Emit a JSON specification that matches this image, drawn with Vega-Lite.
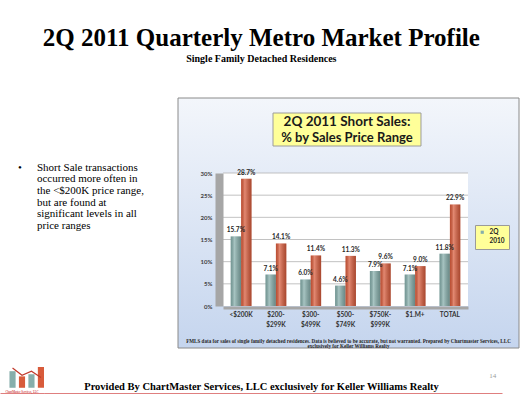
{
  "$schema": "https://vega.github.io/schema/vega-lite/v6.json",
  "padding": 0,
  "background": "white",
  "config": {"view": {"stroke": null}},
  "datasets": {
    "sales": [
      {"range": "<$200K", "series": "2Q 2010", "pct": 0.157},
      {"range": "<$200K", "series": "2Q 2011", "pct": 0.287},
      {"range": "$200-$299K", "series": "2Q 2010", "pct": 0.071},
      {"range": "$200-$299K", "series": "2Q 2011", "pct": 0.141},
      {"range": "$300-$499K", "series": "2Q 2010", "pct": 0.060},
      {"range": "$300-$499K", "series": "2Q 2011", "pct": 0.114},
      {"range": "$500-$749K", "series": "2Q 2010", "pct": 0.046},
      {"range": "$500-$749K", "series": "2Q 2011", "pct": 0.113},
      {"range": "$750K-$999K", "series": "2Q 2010", "pct": 0.079},
      {"range": "$750K-$999K", "series": "2Q 2011", "pct": 0.096},
      {"range": "$1.M+", "series": "2Q 2010", "pct": 0.071},
      {"range": "$1.M+", "series": "2Q 2011", "pct": 0.090},
      {"range": "TOTAL", "series": "2Q 2010", "pct": 0.118},
      {"range": "TOTAL", "series": "2Q 2011", "pct": 0.229}
    ],
    "grid": [{"tick": 0.05}, {"tick": 0.10}, {"tick": 0.15}, {"tick": 0.20}, {"tick": 0.25}, {"tick": 0.30}],
    "logo": [{"k": "a", "h": 0.8, "t": 0.95}, {"k": "b", "h": 0.55, "t": 0.6}, {"k": "c", "h": 0.65, "t": 0.8}, {"k": "d", "h": 1.0, "t": 0.5}],
    "one": [{}]
  },
  "spacing": 15,
  "vconcat": [
    {
      "width": 529, "height": 82,
      "data": {"name": "one"},
      "layer": [
        {
          "mark": {"type": "text", "text": "2Q 2011 Quarterly Metro Market Profile", "font": "Liberation Serif", "fontSize": 25, "fontWeight": "bold", "align": "center", "baseline": "alphabetic", "color": "black"},
          "encoding": {
            "x": {"datum": 0.494, "type": "quantitative", "scale": {"domain": [0, 1]}, "axis": null},
            "y": {"datum": 0.44, "type": "quantitative", "scale": {"domain": [0, 1]}, "axis": null}
          }
        },
        {
          "mark": {"type": "text", "text": "Single Family Detached Residences", "font": "Liberation Serif", "fontSize": 10, "fontWeight": "bold", "align": "center", "baseline": "alphabetic", "color": "black"},
          "encoding": {
            "x": {"datum": 0.494, "type": "quantitative"},
            "y": {"datum": 0.245, "type": "quantitative"}
          }
        }
      ]
    },
    {
      "spacing": 5,
      "hconcat": [
        {
          "width": 172, "height": 250,
          "data": {"name": "one"},
          "layer": [
            {
              "mark": {"type": "text", "text": "•", "font": "Liberation Serif", "fontSize": 11, "align": "center", "baseline": "top", "color": "black"},
              "encoding": {
                "x": {"datum": 0.116, "type": "quantitative", "scale": {"domain": [0, 1]}, "axis": null},
                "y": {"datum": 0.745, "type": "quantitative", "scale": {"domain": [0, 1]}, "axis": null}
              }
            },
            {
              "mark": {"type": "text", "text": ["Short Sale transactions", "occurred more often in", "the <$200K price range,", "but are found at", "significant levels in all", "price ranges"], "font": "Liberation Serif", "fontSize": 11, "lineHeight": 11.6, "align": "left", "baseline": "top", "color": "black"},
              "encoding": {
                "x": {"datum": 0.215, "type": "quantitative"},
                "y": {"datum": 0.745, "type": "quantitative"}
              }
            }
          ]
        },
        {
          "width": 341, "height": 250,
          "resolve": {"scale": {"x": "independent", "y": "independent"}},
          "layer": [
            {
              "data": {"name": "one"},
              "mark": {"type": "rect", "stroke": "#8a8a8a", "strokeWidth": 1, "fill": {"gradient": "linear", "x1": 0, "y1": 0, "x2": 0, "y2": 1, "stops": [{"offset": 0, "color": "#f3f6fb"}, {"offset": 1, "color": "#c5d5ee"}]}},
              "encoding": {
                "x": {"datum": 0, "type": "quantitative", "scale": {"domain": [0, 1]}, "axis": null},
                "x2": {"datum": 1},
                "y": {"datum": 0, "type": "quantitative", "scale": {"domain": [0, 1]}, "axis": null},
                "y2": {"datum": 1}
              }
            },
            {
              "data": {"name": "one"},
              "mark": {"type": "rect", "fill": "white"},
              "encoding": {
                "x": {"datum": 0, "type": "quantitative", "scale": {"domain": [0, 1], "range": [45, 290]}, "axis": null},
                "x2": {"datum": 1},
                "y": {"datum": 0, "type": "quantitative", "scale": {"domain": [0, 0.3], "range": [208, 75], "nice": false}, "axis": null},
                "y2": {"datum": 0.3}
              }
            },
            {
              "data": {"name": "grid"},
              "mark": {"type": "rule", "stroke": "#b3b3b3", "strokeWidth": 0.8},
              "encoding": {
                "x": {"datum": 0, "type": "quantitative", "scale": {"domain": [0, 1], "range": [45, 290]}, "axis": null},
                "x2": {"datum": 1},
                "y": {"field": "tick", "type": "quantitative", "scale": {"domain": [0, 0.3], "range": [208, 75], "nice": false}, "axis": null}
              }
            },
            {
              "data": {"name": "sales"},
              "encoding": {
                "x": {
                  "field": "range", "type": "nominal", "sort": null,
                  "scale": {"range": [45, 290], "paddingInner": 0.4, "paddingOuter": 0.22},
                  "axis": {
                    "orient": "bottom", "offset": -40.5, "zindex": 1, "title": null, "ticks": false, "grid": false,
                    "domainColor": "#a6a6a6", "domainWidth": 3, "labelAngle": 0,
                    "labelFont": "Lato", "labelFontWeight": "bold", "labelFontSize": 6.5, "labelColor": "#333333",
                    "labelPadding": 4, "labelLineHeight": 9.5, "labelBaseline": "top",
                    "labelExpr": "indexof(datum.label, '-') > 0 ? [slice(datum.label, 0, indexof(datum.label, '-') + 1), slice(datum.label, indexof(datum.label, '-') + 1)] : datum.label"
                  }
                },
                "xOffset": {"field": "series", "type": "nominal", "scale": {"paddingInner": 0}},
                "y": {
                  "field": "pct", "type": "quantitative",
                  "scale": {"domain": [0, 0.3], "range": [208, 75], "nice": false},
                  "axis": {
                    "orient": "left", "offset": -41, "zindex": 1, "title": null, "ticks": false, "grid": false,
                    "values": [0, 0.05, 0.1, 0.15, 0.2, 0.25, 0.3], "format": ".0%",
                    "domainColor": "#a6a6a6", "domainWidth": 8,
                    "labelFont": "Lato", "labelFontWeight": "bold", "labelFontSize": 6, "labelColor": "#404040", "labelPadding": 7
                  }
                }
              },
              "layer": [
                {
                  "mark": {"type": "bar"},
                  "encoding": {
                    "color": {
                      "field": "series", "type": "nominal",
                      "scale": {"domain": ["2Q 2010", "2Q 2011"], "range": ["#86aeab", "#d85b3b"]},
                      "legend": {
                        "orient": "none", "legendX": 475, "legendY": 225, "values": ["2Q 2010"], "title": null,
                        "fillColor": "#ffff99", "strokeColor": "#9a9a9a", "padding": 4, "zindex": 1,
                        "labelFont": "Lato", "labelFontWeight": "bold", "labelFontSize": 6.5, "labelColor": "#222222",
                        "labelExpr": "split(datum.label, ' ')", "symbolType": "square", "symbolSize": 10
                      }
                    }
                  }
                },
                {
                  "mark": {"type": "bar", "fill": {"gradient": "linear", "x1": 0, "y1": 0, "x2": 1, "y2": 0, "stops": [{"offset": 0, "color": "rgba(0,0,0,0.12)"}, {"offset": 0.35, "color": "rgba(255,255,255,0.28)"}, {"offset": 1, "color": "rgba(0,0,0,0.22)"}]}}
                },
                {
                  "mark": {"type": "text", "baseline": "bottom", "dy": -3, "font": "Lato", "fontWeight": "bold", "fontSize": 6.5, "color": "#262626"},
                  "encoding": {"text": {"field": "pct", "type": "quantitative", "format": ".1%"}}
                }
              ]
            },
            {
              "data": {"name": "one"},
              "mark": {"type": "rect", "fill": "#ffff99", "stroke": "#9c9c9c", "strokeWidth": 1},
              "encoding": {
                "x": {"datum": 0.2786, "type": "quantitative", "scale": {"domain": [0, 1]}, "axis": null},
                "x2": {"datum": 0.7126},
                "y": {"datum": 0.808, "type": "quantitative", "scale": {"domain": [0, 1]}, "axis": null},
                "y2": {"datum": 0.94}
              }
            },
            {
              "data": {"name": "one"},
              "mark": {"type": "text", "text": "2Q 2011 Short Sales:", "font": "Lato", "fontWeight": "bold", "fontSize": 13.5, "align": "center", "baseline": "middle", "color": "#1a1a1a"},
              "encoding": {
                "x": {"datum": 0.4956, "type": "quantitative", "scale": {"domain": [0, 1]}, "axis": null},
                "y": {"datum": 0.904, "type": "quantitative", "scale": {"domain": [0, 1]}, "axis": null}
              }
            },
            {
              "data": {"name": "one"},
              "mark": {"type": "text", "text": "% by Sales Price Range", "font": "Lato", "fontWeight": "bold", "fontSize": 13, "align": "center", "baseline": "middle", "color": "#1a1a1a"},
              "encoding": {
                "x": {"datum": 0.4956, "type": "quantitative", "scale": {"domain": [0, 1]}, "axis": null},
                "y": {"datum": 0.84, "type": "quantitative", "scale": {"domain": [0, 1]}, "axis": null}
              }
            },
            {
              "data": {"name": "one"},
              "mark": {"type": "text", "text": ["FMLS data for sales of single family detached residences.  Data is believed to be accurate, but not warranted.    Prepared by Chartmaster Services, LLC", "exclusively for Keller Williams Realty"], "font": "Liberation Serif", "fontWeight": "bold", "fontSize": 5.1, "lineHeight": 5.5, "align": "center", "baseline": "middle", "color": "#262626"},
              "encoding": {
                "x": {"datum": 0.5, "type": "quantitative", "scale": {"domain": [0, 1]}, "axis": null},
                "y": {"datum": 0.03, "type": "quantitative", "scale": {"domain": [0, 1]}, "axis": null}
              }
            }
          ]
        }
      ]
    },
    {
      "spacing": 0,
      "hconcat": [
        {
          "width": 44, "height": 28,
          "layer": [
            {
              "data": {"name": "logo"},
              "mark": {"type": "rect"},
              "encoding": {
                "x": {"field": "k", "type": "nominal", "scale": {"paddingInner": 0.35, "paddingOuter": 0.5, "align": 1},
                      "axis": {"title": null, "labels": false, "ticks": false, "grid": false, "domainColor": "#c00000", "domainWidth": 2}},
                "y": {"field": "h", "type": "quantitative", "scale": {"domain": [-0.3, 1.05], "nice": false, "zero": false}, "axis": null},
                "y2": {"datum": 0},
                "color": {"field": "k", "type": "nominal", "scale": {"domain": ["a", "b", "c", "d"], "range": ["#7030a0", "#4bacc6", "#9bbb59", "#ffc000"]}, "legend": null}
              }
            },
            {
              "data": {"name": "logo"},
              "mark": {"type": "line", "color": "#c0392b", "strokeWidth": 1.2},
              "encoding": {
                "x": {"field": "k", "type": "nominal"},
                "y": {"field": "t", "type": "quantitative"}
              }
            },
            {
              "data": {"name": "one"},
              "mark": {"type": "text", "text": "ChartMaster Services, LLC", "font": "Liberation Serif", "fontSize": 3, "color": "#c00000", "baseline": "middle"},
              "encoding": {"y": {"datum": -0.17, "type": "quantitative"}}
            }
          ]
        },
        {
          "width": 458, "height": 28,
          "data": {"name": "one"},
          "layer": [
            {
              "mark": {"type": "text", "text": "Provided By ChartMaster Services, LLC exclusively for Keller Williams Realty", "font": "Liberation Serif", "fontWeight": "bold", "fontSize": 10.5, "align": "center", "baseline": "alphabetic", "color": "black"},
              "encoding": {
                "x": {"datum": 0.475, "type": "quantitative", "scale": {"domain": [0, 1]},
                      "axis": {"title": null, "labels": false, "ticks": false, "grid": false, "domainColor": "#c00000", "domainWidth": 2}},
                "y": {"datum": 0.143, "type": "quantitative", "scale": {"domain": [0, 1]}, "axis": null}
              }
            },
            {
              "mark": {"type": "text", "text": "14", "font": "Liberation Serif", "fontSize": 7, "align": "center", "baseline": "middle", "color": "#9a9a9a"},
              "encoding": {
                "x": {"datum": 0.98, "type": "quantitative"},
                "y": {"datum": 0.66, "type": "quantitative"}
              }
            }
          ]
        }
      ]
    }
  ]
}
